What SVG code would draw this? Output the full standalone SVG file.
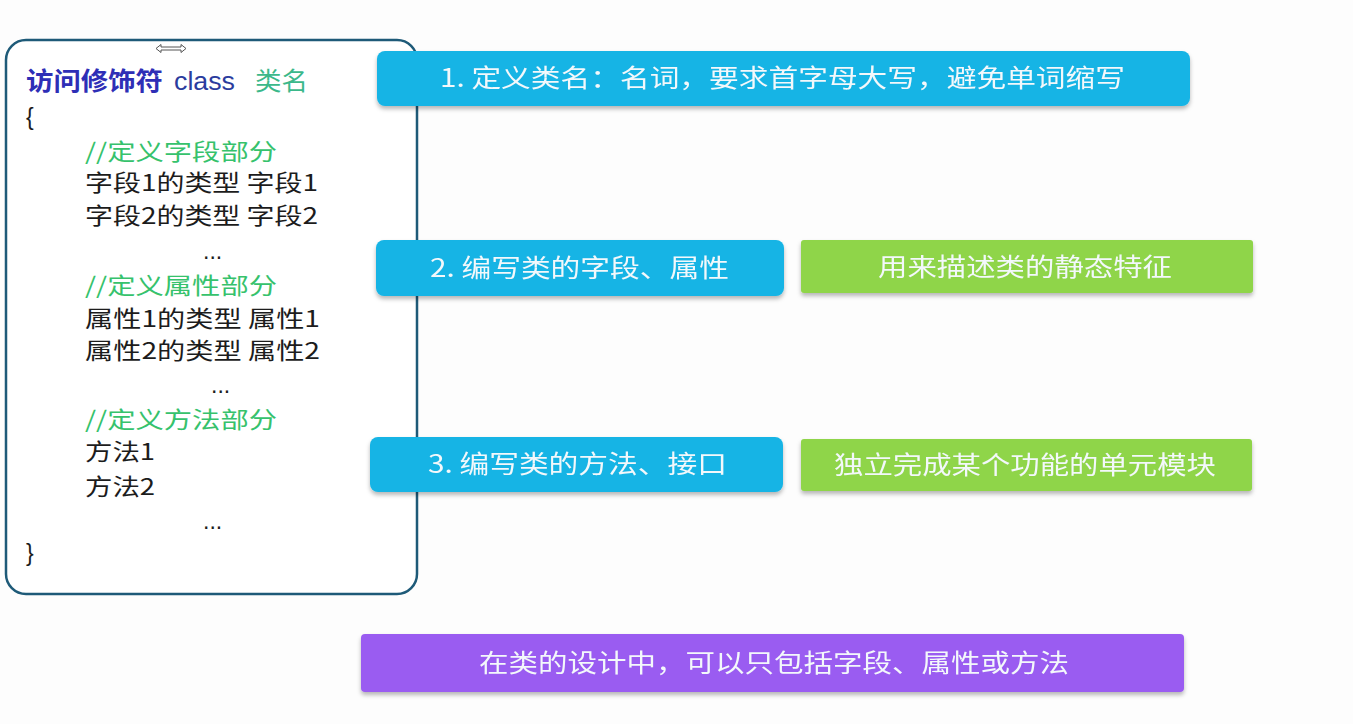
<svg xmlns="http://www.w3.org/2000/svg" width="1353" height="724" viewBox="0 0 1353 724">
<defs>
<filter id="sh" x="-5%" y="-30%" width="110%" height="170%">
<feDropShadow dx="0" dy="3" stdDeviation="2" flood-color="#000" flood-opacity="0.28"/>
</filter>
<style>
text{font-family:"Noto Sans CJK SC","Liberation Sans",sans-serif;}
.code{font-size:23px;fill:#1c1c1c;}
.cm{font-size:23px;fill:#36c26c;}
.lat{font-family:"Liberation Sans","Noto Sans CJK SC",sans-serif;}
.bt{font-size:25px;fill:#f3f8fb;text-anchor:middle;}
.blue{fill:#16b4e5;}
.green{fill:#8fd548;}
.purple{fill:#9a5bf1;}
</style>
</defs>
<rect width="1353" height="724" fill="#fdfdfd"/>

<g id="class-box">
<rect x="6" y="40" width="411" height="554" rx="20" fill="#ffffff" stroke="#1e5a78" stroke-width="2.5"/>
<path d="M156 48.5 L161 44.5 L161 47 L181 47 L181 44.5 L186 48.5 L181 52.5 L181 50 L161 50 L161 52.5 Z" fill="#ffffff" stroke="#555" stroke-width="1"/>
<text x="26" y="90" font-size="25" font-weight="bold" fill="#2e2eb6" textLength="137" lengthAdjust="spacingAndGlyphs">访问修饰符</text>
<text x="174" y="90" font-size="25" fill="#2b3c9e" class="lat" font-family="Liberation Sans" textLength="61" lengthAdjust="spacingAndGlyphs">class</text>
<text x="255" y="90" font-size="25" fill="#3bb88a" textLength="53" lengthAdjust="spacingAndGlyphs">类名</text>
<text x="26" y="125" class="code lat">{</text>
<text x="85" y="160" class="cm" textLength="192" lengthAdjust="spacingAndGlyphs">//定义字段部分</text>
<text x="85" y="191" class="code" textLength="233" lengthAdjust="spacingAndGlyphs">字段1的类型 字段1</text>
<text x="85" y="224" class="code" textLength="233" lengthAdjust="spacingAndGlyphs">字段2的类型 字段2</text>
<text x="203" y="259" class="code lat">...</text>
<text x="85" y="294" class="cm" textLength="192" lengthAdjust="spacingAndGlyphs">//定义属性部分</text>
<text x="85" y="327" class="code" textLength="235" lengthAdjust="spacingAndGlyphs">属性1的类型 属性1</text>
<text x="85" y="359" class="code" textLength="235" lengthAdjust="spacingAndGlyphs">属性2的类型 属性2</text>
<text x="211" y="393" class="code lat">...</text>
<text x="85" y="428" class="cm" textLength="192" lengthAdjust="spacingAndGlyphs">//定义方法部分</text>
<text x="85" y="460" class="code" textLength="70" lengthAdjust="spacingAndGlyphs">方法1</text>
<text x="85" y="495" class="code" textLength="70" lengthAdjust="spacingAndGlyphs">方法2</text>
<text x="203" y="529" class="code lat">...</text>
<text x="26" y="561" class="code lat">}</text>
</g>

<g id="connectors"></g>

<g id="step1" filter="url(#sh)">
<rect x="377" y="51" width="813" height="55" rx="8" class="blue"/>
<text x="782.5" y="87" class="bt" textLength="685" lengthAdjust="spacingAndGlyphs">1. 定义类名：名词，要求首字母大写，避免单词缩写</text>
</g>

<g id="step2" filter="url(#sh)">
<rect x="376" y="240" width="408" height="56" rx="8" class="blue"/>
<text x="579.5" y="277" class="bt" textLength="299" lengthAdjust="spacingAndGlyphs">2. 编写类的字段、属性</text>
</g>

<g id="note2" filter="url(#sh)">
<rect x="801" y="240" width="452" height="53" rx="3" class="green"/>
<text x="1025" y="276" class="bt" fill="#f3f8ea" textLength="294" lengthAdjust="spacingAndGlyphs">用来描述类的静态特征</text>
</g>

<g id="step3" filter="url(#sh)">
<rect x="370" y="437" width="413" height="55" rx="8" class="blue"/>
<text x="577.5" y="473" class="bt" textLength="299" lengthAdjust="spacingAndGlyphs">3. 编写类的方法、接口</text>
</g>

<g id="note3" filter="url(#sh)">
<rect x="801" y="439" width="451" height="52" rx="3" class="green"/>
<text x="1025" y="474" class="bt" fill="#f3f8ea" textLength="382" lengthAdjust="spacingAndGlyphs">独立完成某个功能的单元模块</text>
</g>

<g id="summary" filter="url(#sh)">
<rect x="361" y="634" width="823" height="58" rx="4" class="purple"/>
<text x="774" y="672" class="bt" textLength="590" lengthAdjust="spacingAndGlyphs">在类的设计中，可以只包括字段、属性或方法</text>
</g>
</svg>
